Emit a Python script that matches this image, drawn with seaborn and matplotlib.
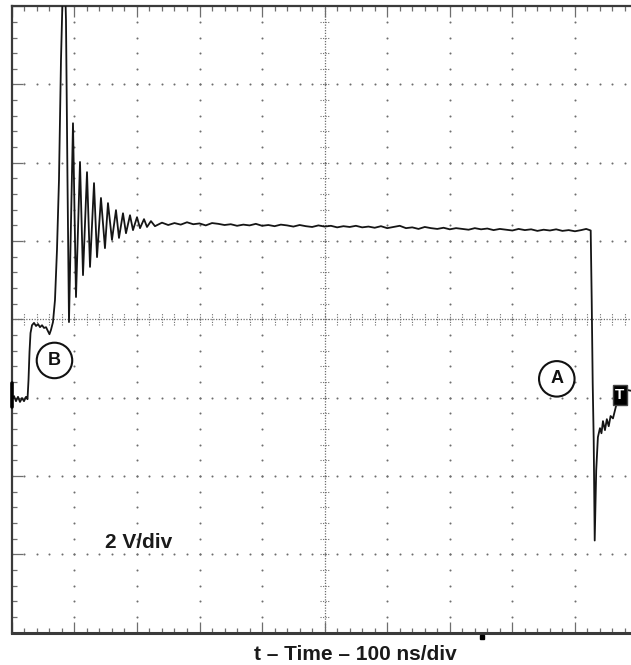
import numpy as np
import pandas as pd
import matplotlib
matplotlib.use("Agg")
import matplotlib.pyplot as plt
from matplotlib.patches import Ellipse
import seaborn as sns

# ---- scope trace samples: time (ns) and voltage (V) ----
t_baseline = [0.0, 3.5, 6.7, 9.9, 13.1, 16.3, 19.5, 22.7, 25.1]
v_baseline = [-2.06, -1.96, -2.09, -1.98, -2.11, -2.01, -2.09, -1.98, -2.04]

t_rise = [26.7, 28.3, 29.9, 32.3, 35.5, 38.7, 41.9, 45.1, 48.3, 51.5, 54.7,
          57.8, 60.2, 62.6, 65.8]
v_rise = [-1.55, -0.83, -0.35, -0.15, -0.09, -0.17, -0.12, -0.20, -0.15,
          -0.22, -0.20, -0.30, -0.38, -0.27, -0.07]

t_spike = [69.0, 72.2, 75.4, 78.6, 81.8, 84.2, 86.6, 89.0, 91.4]
v_spike = [0.49, 1.77, 3.56, 6.62, 8.66, 9.18, 7.64, 3.56, -0.07]

t_ring = [97.8, 102.6, 109.0, 113.8, 120.2, 125.0, 131.4, 136.2, 142.5,
          148.9, 153.7, 160.1, 166.5, 171.3, 177.7, 182.5, 188.9, 193.7,
          200.1, 204.9, 211.3, 216.1, 222.4, 228.8]
v_ring = [5.01, 0.57, 4.02, 1.13, 3.76, 1.34, 3.48, 1.59, 3.10,
          1.82, 2.97, 2.03, 2.79, 2.08, 2.71, 2.20, 2.66, 2.28,
          2.61, 2.33, 2.56, 2.36, 2.51, 2.38]

t_flat = [240, 250, 260, 270, 280, 290, 300, 310, 320, 330, 340, 350, 360,
          370, 380, 390, 400, 410, 420, 430, 440, 450, 460, 470, 480, 490,
          500, 510, 520, 530, 540, 550, 560, 570, 580, 590, 600, 610, 620,
          630, 640, 650, 660, 670, 680, 690, 700, 710, 720, 730, 740, 750,
          760, 770, 780, 790, 800, 810, 820, 830, 840, 850, 860, 870, 880,
          890, 900, 910, 918]
v_flat = [2.47, 2.41, 2.46, 2.42, 2.48, 2.43, 2.45, 2.40, 2.46, 2.44, 2.41,
          2.43, 2.39, 2.42, 2.40, 2.44, 2.39, 2.41, 2.38, 2.42, 2.40, 2.37,
          2.41, 2.38, 2.36, 2.40, 2.37, 2.39, 2.35, 2.38, 2.36, 2.39, 2.35,
          2.37, 2.34, 2.38, 2.33, 2.36, 2.39, 2.33, 2.35, 2.31, 2.36, 2.33,
          2.31, 2.34, 2.30, 2.33, 2.31, 2.29, 2.33, 2.30, 2.32, 2.28, 2.31,
          2.29, 2.27, 2.31, 2.28, 2.30, 2.26, 2.29, 2.27, 2.30, 2.26, 2.28,
          2.25, 2.28, 2.31]

t_fall = [925.2, 926.8, 928.4, 930.0, 931.6, 934.0, 936.7, 940.0, 942.4,
          944.8, 948.0, 951.0, 954.0, 957.0, 960.8, 965.6, 970.4, 978.0,
          985.0, 991.0, 999.0]
v_fall = [2.27, 0.50, -1.63, -3.09, -5.65, -3.86, -3.01, -2.78, -2.91,
          -2.60, -2.83, -2.55, -2.73, -2.47, -2.53, -2.22, -1.94, -1.86,
          -1.81, -1.83, -1.76]

# ---- annotations ----
label_b = ("B", 68.2, -1.05)
label_a = ("A", 871.0, -1.52)
scale_text = ("2 V/div", 203.0, -5.71)
trigger_mark = ("T", 972.0, -1.93)
ground_mark_v = [-1.63, -2.24]
trigger_pos_t = 751.0
x_title = "t \u2013 Time \u2013 100 ns/div"

df = pd.DataFrame({
    "t": t_baseline + t_rise + t_spike + t_ring + t_flat + t_fall,
    "v": v_baseline + v_rise + v_spike + v_ring + v_flat + v_fall,
})

sns.set_theme(style="white")
plt.rcParams["font.family"] = ["Liberation Sans", "DejaVu Sans"]

W, H = 631, 665
fig = plt.figure(figsize=(W / 100, H / 100), dpi=100)
ax_left, ax_w = 11.8 / W, 625.7 / W
ax_bottom, ax_h = 32.5 / H, 626.3 / H
ax = fig.add_axes([ax_left, ax_bottom, ax_w, ax_h])
ax.set_xlim(0, 1000)
ax.set_ylim(-8, 8)

grid_col = "#6e6e6e"
# graticule: dotted division lines (dots every 1/5 division)
xs_minor = np.arange(0, 1001, 20)
ys_minor = np.arange(-8, 8.01, 0.4)
for gx in range(100, 1000, 100):
    if gx == 500:
        continue
    ax.scatter(np.full_like(ys_minor, gx), ys_minor, s=2.2, color=grid_col,
               linewidths=0, zorder=1)
for gy in range(-6, 7, 2):
    if gy == 0:
        continue
    ax.scatter(xs_minor, np.full_like(xs_minor, gy, dtype=float), s=2.2,
               color=grid_col, linewidths=0, zorder=1)

# centre axes of the graticule with small cross ticks
ax.plot([500, 500], [-8, 8], color=grid_col, lw=0.9, ls=(0, (1, 1.2)), zorder=1)
ax.plot([0, 1000], [0, 0], color=grid_col, lw=0.9, ls=(0, (1, 1.2)), zorder=1)
for yy in ys_minor:
    ax.plot([492, 508], [yy, yy], color=grid_col, lw=0.8, ls=(0, (1, 1.3)), zorder=1)
for xx in xs_minor:
    ax.plot([xx, xx], [-0.15, 0.15], color=grid_col, lw=0.8, ls=(0, (1, 1.3)), zorder=1)

# edge ticks
ax.xaxis.set_ticks_position("both")
ax.yaxis.set_ticks_position("left")
ax.set_xticks(np.arange(0, 1001, 100))
ax.set_xticks(xs_minor, minor=True)
ax.set_yticks(np.arange(-8, 8.01, 2))
ax.set_yticks(ys_minor, minor=True)
ax.tick_params(which="major", direction="in", length=8, width=0.9,
               color=grid_col, labelbottom=False, labelleft=False,
               labeltop=False)
ax.tick_params(which="minor", direction="in", length=3.5, width=0.9,
               color=grid_col)
for side in ["top", "left", "bottom", "right"]:
    ax.spines[side].set_color("#3a3a3a")
    ax.spines[side].set_linewidth(1.6)
ax.spines["bottom"].set_linewidth(2.2)

# signal trace
sns.lineplot(data=df, x="t", y="v", sort=False, estimator=None, ax=ax,
             color="#151515", lw=1.3, zorder=3)
ax.set_xlabel("")
ax.set_ylabel("")

# ground reference and trigger markers
ax.plot([0, 0], ground_mark_v, color="black", lw=2.6, clip_on=False, zorder=4)
ax.plot([trigger_pos_t], [-8.12], marker="s", ms=2.4, color="black",
        clip_on=False, zorder=4)
ax.text(trigger_mark[1], trigger_mark[2], trigger_mark[0], color="white",
        fontsize=11, fontweight="bold", ha="center", va="center", zorder=5,
        bbox=dict(boxstyle="square,pad=0.18", fc="black", ec="#444", lw=1))

# circled callouts
rx = 35.5 / 62.57 * 100
ry = 35.5 / 78.3 * 2
for txt, cx, cy in (label_b, label_a):
    ax.add_patch(Ellipse((cx, cy), rx, ry, fill=False, ec="#111", lw=1.5,
                         zorder=4))
    ax.text(cx, cy, txt, fontsize=13, fontweight="bold", ha="center",
            va="center", color="#111", zorder=5)

ax.text(scale_text[1], scale_text[2], scale_text[0], fontsize=15,
        fontweight="bold", ha="center", va="center", color="#1a1a1a", zorder=5)

fig.text(355 / W, 1 - 654 / H, x_title, fontsize=15, fontweight="bold",
         ha="center", va="center", color="#1a1a1a")

fig.savefig("out.png", dpi=100, facecolor="white")
